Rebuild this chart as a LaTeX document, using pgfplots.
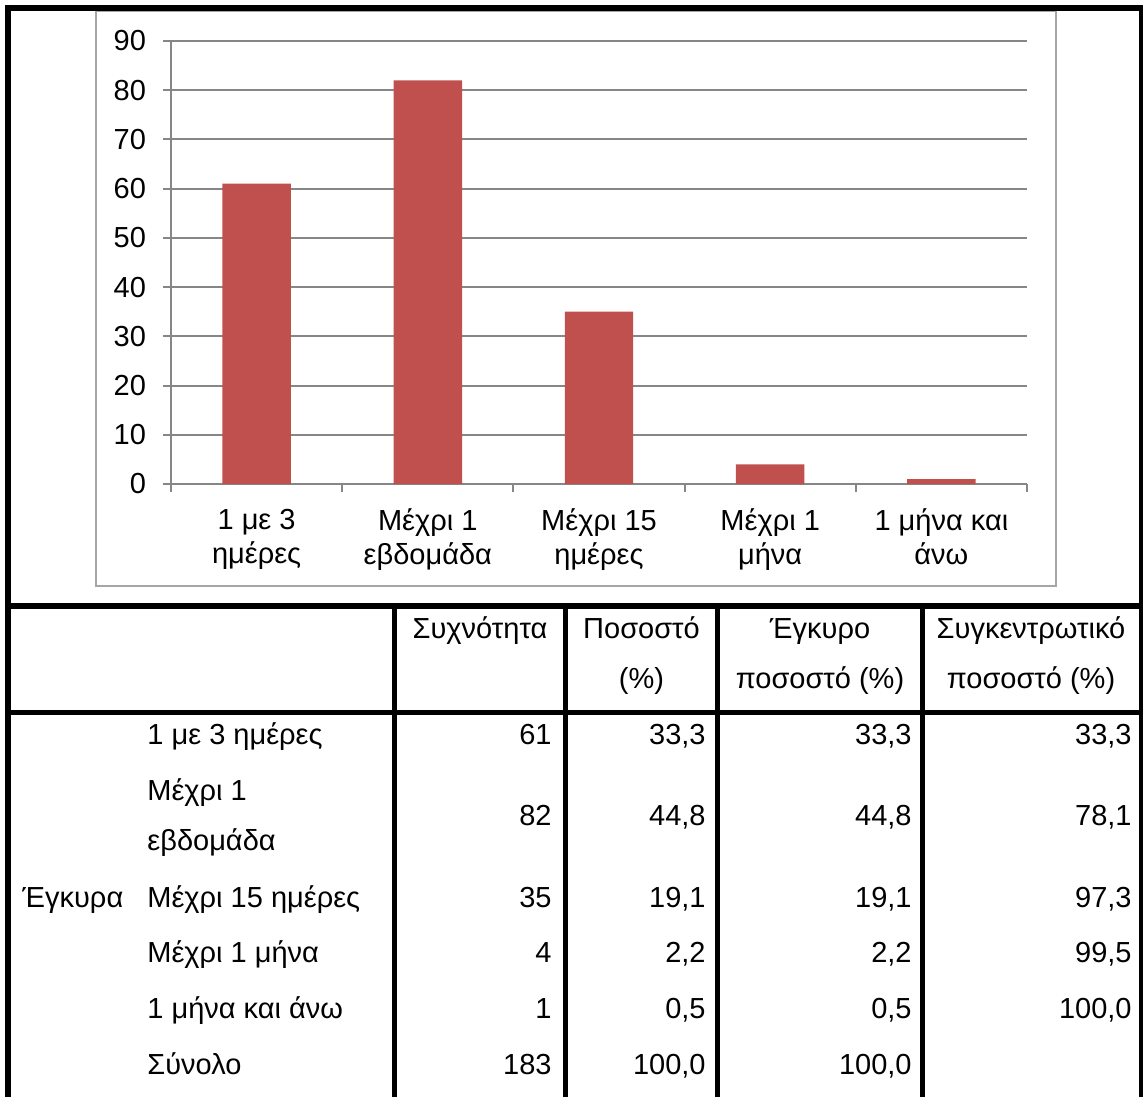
\documentclass[border=0pt]{standalone}
\usepackage{fontspec}
\setmainfont{Liberation Sans}
\usepackage{pgfplots}
\pgfplotsset{compat=1.18}
\definecolor{barred}{HTML}{C0504D}
\definecolor{gridgray}{HTML}{868686}
\definecolor{framegray}{HTML}{A6A6A6}
\newcommand\tf{\fontsize{14.5}{17}\selectfont}

\begin{document}
\begin{tikzpicture}
\path[use as bounding box] (0pt,0pt) rectangle (571.5pt,-548.5pt);

% frame of the chart object
\begin{scope}[x=0.5pt,y=-0.5pt]
  \draw[framegray, line width=1pt] (96,11) rectangle (1056,586);
\end{scope}

\begin{axis}[
  at={(85.5pt,-242pt)}, anchor=south west,
  scale only axis, width=428pt, height=221.5pt,
  xmin=-0.5, xmax=4.5, ymin=0, ymax=90,
  axis x line*=bottom, axis y line*=left,
  axis line style={gridgray, line width=1pt, -},
  ytick={0,10,...,90},
  ymajorgrids, grid style={gridgray, line width=1pt},
  % category separators carry the tick marks
  xtick={-0.5,0.5,1.5,2.5,3.5,4.5},
  xticklabels={},
  % category names sit at the bar centres, without marks
  extra x ticks={0,1,2,3,4},
  extra x tick labels={{1 με 3\\ημέρες},{Μέχρι 1\\εβδομάδα},{Μέχρι 15\\ημέρες},{Μέχρι 1\\μήνα},{1 μήνα και\\άνω}},
  extra x tick style={major tick length=0pt, xmajorgrids=false,
    xticklabel style={font=\tf, align=center, yshift=-9pt}},
  tick align=outside, major tick length=4pt,
  tick style={gridgray, line width=1pt},
  /pgf/number format/assume math mode=true,
  yticklabel style={font=\tf, xshift=-5pt},
  ybar, bar width=0.4,
]
\addplot[fill=barred, draw=none] coordinates {(0,61) (1,82) (2,35) (3,4) (4,1)};
\end{axis}

% frequency table
\begin{scope}[x=0.5pt,y=-0.5pt, every node/.style={font=\tf, inner sep=0pt}]
  \draw[line width=3pt] (8,5) -- (8,1097);
  \draw[line width=3pt] (5,8) -- (1143,8);
  \draw[line width=3pt] (1142,5) -- (1142,1097);
  \draw[line width=3pt] (5,606) -- (1143,606);
  \draw[line width=2.5pt] (5,712.5) -- (1143,712.5);
  \foreach \cx in {394.5,565.5,717.5,922.5}
    \draw[line width=2.25pt] (\cx,606) -- (\cx,1097);

  \node[anchor=base] at (480,638) {Συχνότητα};
  \node[anchor=base] at (641.5,638) {Ποσοστό};
  \node[anchor=base] at (641.5,688) {(\%)};
  \node[anchor=base] at (820,638) {Έγκυρο};
  \node[anchor=base] at (820,688) {ποσοστό (\%)};
  \node[anchor=base] at (1031,638) {Συγκεντρωτικό};
  \node[anchor=base] at (1031,688) {ποσοστό (\%)};

  \node[anchor=base west] at (22,907) {Έγκυρα};
  \node[anchor=base west] at (147,744) {1 με 3 ημέρες};
  \node[anchor=base west] at (147,800) {Μέχρι 1};
  \node[anchor=base west] at (147,850) {εβδομάδα};
  \node[anchor=base west] at (147,907) {Μέχρι 15 ημέρες};
  \node[anchor=base west] at (147,962) {Μέχρι 1 μήνα};
  \node[anchor=base west] at (147,1018) {1 μήνα και άνω};
  \node[anchor=base west] at (147,1074) {Σύνολο};

  \foreach \yy/\a/\b/\c/\d in {744/61/{33,3}/{33,3}/{33,3},
                               825/82/{44,8}/{44,8}/{78,1},
                               907/35/{19,1}/{19,1}/{97,3},
                               962/4/{2,2}/{2,2}/{99,5},
                               1018/1/{0,5}/{0,5}/{100,0},
                               1074/183/{100,0}/{100,0}/{}} {
    \node[anchor=base east] at (552,\yy) {\a};
    \node[anchor=base east] at (706,\yy) {\b};
    \node[anchor=base east] at (912,\yy) {\c};
    \node[anchor=base east] at (1132,\yy) {\d};
  }
\end{scope}
\end{tikzpicture}
\end{document}
